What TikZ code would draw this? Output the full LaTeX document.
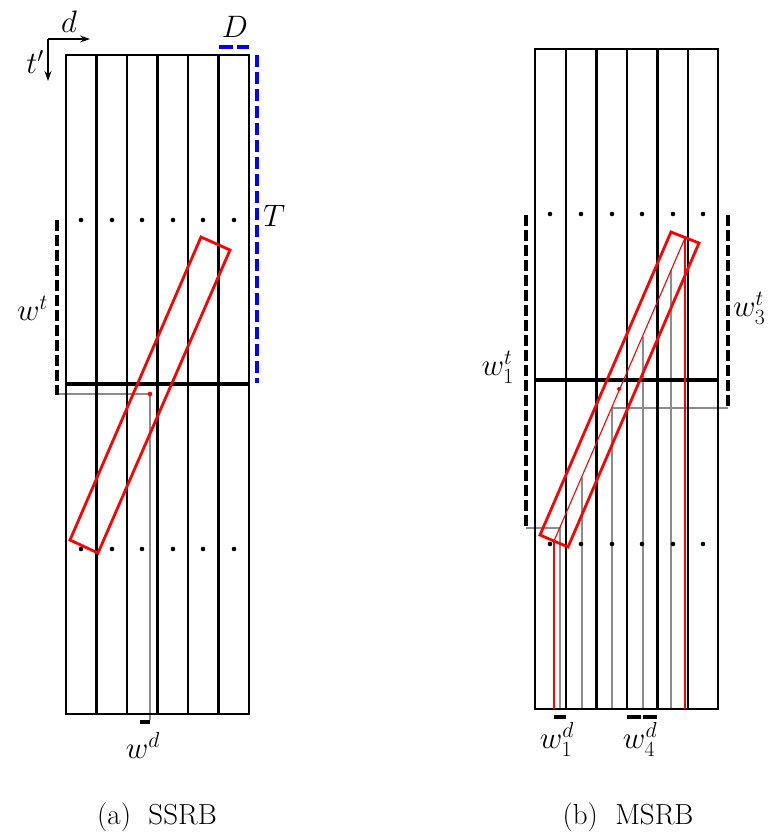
\RequirePackage{fix-cm}
\documentclass[tikz,border=0pt]{standalone}
\usetikzlibrary{arrows.meta}
\begin{document}
\begin{tikzpicture}[x=1pt,y=-1pt,
  frame/.style={line width=2.7pt, black},
  col/.style={line width=2.5pt, black},
  mid/.style={line width=3.2pt, black},
  bar/.style={line width=4.2pt, black, dash pattern=on 11pt off 4pt},
  bluebar/.style={line width=3.2pt, blue, dash pattern=on 12pt off 5pt},
  box/.style={line width=2.8pt, red, line join=miter},
  guide/.style={line width=1.3pt, black!45},
  redguide/.style={line width=1.1pt, red},
  lab/.style={font=\fontsize{31}{36}\selectfont, inner sep=0pt},
  captxt/.style={font=\fontsize{29}{34}\selectfont, inner sep=0pt},
  ax/.style={line width=1.4pt, -{Stealth[length=10pt,width=7pt]}}
]
\useasboundingbox (0,0) rectangle (768,839);

% ---------------- (a) SSRB ----------------
\draw[guide] (57,394) -- (150,394) -- (150,720);
\foreach \x in {96.5,127,157.5,188,218.5} \draw[col] (\x,55) -- (\x,714);
\draw[frame] (66,55) rectangle (249,714);
\draw[mid] (66,384) -- (249,384);
\foreach \x in {81,112,142,173,203,234} {
  \fill (\x,220) circle (2.3);
  \fill (\x,549) circle (2.3);
}
\draw[box] (201,237) -- (230,250) -- (98,553) -- (70,540) -- cycle;
\fill[red] (150,394) circle (2.3);

% axes
\coordinate (o) at (48,39);
\coordinate (dx) at (90,39);
\coordinate (ty) at (48,81);
\draw[ax] (o) -- (dx);
\draw[ax] (o) -- (ty);
\node[lab, anchor=south] (dl) at (69,33) {$d$};
\node[lab, anchor=east] (tl) at (44,62) {$t'$};

% D and T
\draw[line width=3.5pt, blue, dash pattern=on 14pt off 4pt] (219,47) -- (249,47);
\node[lab, anchor=south] (Dl) at (235,38) {$D$};
\draw[bluebar] (257,55) -- (257,383);
\node[lab, anchor=west] (Tl) at (263,216) {$T$};

% w^t and w^d
\draw[bar] (57,220) -- (57,395);
\node[lab, anchor=east] (wt) at (48,308) {$w^t$};
\draw[line width=4.2pt] (140,722) -- (150,722);
\node[lab, anchor=north] (wd) at (143,732) {$w^d$};

% ---------------- (b) MSRB ----------------
\draw[guide] (526,528) -- (560,528) -- (560,709);
\draw[guide] (582,477) -- (582,709);
\draw[guide] (728,408) -- (612,408) -- (612,709);
\draw[guide] (643,337) -- (643,709);
\draw[guide] (671,270) -- (671,709);
\foreach \x in {566,596.5,627,657.5,688} \draw[col] (\x,49) -- (\x,709);
\draw[frame] (535,49) rectangle (718,709);
\draw[mid] (535,380) -- (718,380);
\draw[redguide] (685,238) -- (554,541);
\draw[redguide] (685,238) -- (685,709);
\draw[redguide] (554,541) -- (554,709);
\foreach \x in {550,581,612,642,673,703} {
  \fill (\x,214) circle (2.3);
  \fill (\x,544) circle (2.3);
}
\draw[box] (671,232) -- (699,243) -- (568,547) -- (540,535) -- cycle;
\fill[red] (619,389) circle (2);

\draw[bar] (526,215) -- (526,528);
\node[lab, anchor=east] (w1t) at (514,367) {$w^t_1$};
\draw[bar] (728,215) -- (728,408);
\node[lab, anchor=west] (w3t) at (733,308) {$w^t_3$};
\draw[line width=4.2pt] (554,717) -- (566,717);
\node[lab, anchor=north] (w1d) at (557,722) {$w^d_1$};
\draw[line width=4.2pt, dash pattern=on 14pt off 2pt] (627,717) -- (657,717);
\node[lab, anchor=north] (w4d) at (640,722) {$w^d_4$};

% captions
\node[captxt, anchor=base] (ca) at (157,824) {(a)\hspace{0.6em}SSRB};
\node[captxt, anchor=base] (cb) at (628,824) {(b)\hspace{0.6em}MSRB};
\end{tikzpicture}
\end{document}
